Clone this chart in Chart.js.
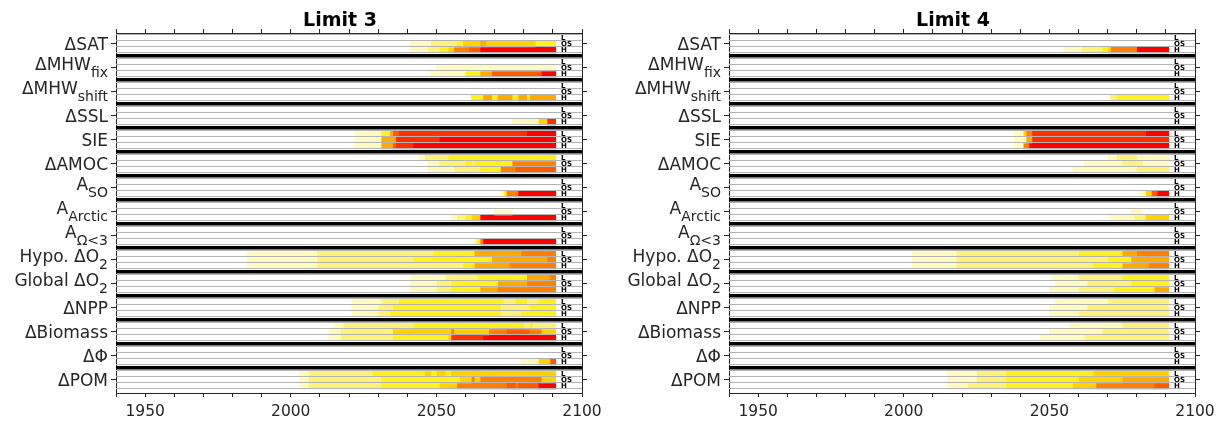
<!DOCTYPE html>
<html>
<head>
<meta charset="utf-8">
<script src="https://cdn.jsdelivr.net/npm/chart.js@4.4.1/dist/chart.umd.min.js"></script>
<style>
  body { margin: 0; background: #fff; width: 1226px; height: 425px; overflow: hidden; position: relative; }
  .panel { position: absolute; top: 0; width: 613px; height: 425px; }
</style>
</head>
<body>
<div class="panel" style="left:0"><canvas id="limit3" width="613" height="425"></canvas></div>
<div class="panel" style="left:613px"><canvas id="limit4" width="613" height="425"></canvas></div>
<script>
const variables = ['ΔSAT', 'ΔMHW', 'ΔMHW', 'ΔSSL', 'SIE', 'ΔAMOC', 'A', 'A', 'A', 'Hypo. ΔO', 'Global ΔO', 'ΔNPP', 'ΔBiomass', 'ΔΦ', 'ΔPOM'];
const subscripts = ['', 'fix', 'shift', '', '', '', 'SO', 'Arctic', 'Ω<3', '2', '2', '', '', '', ''];
const scenarios = ['L', 'OS', 'H'];
const xTickLabels = [1950, 2000, 2050, 2100];
const endYear = 2091;
// colour level 1 (pale) .. 9 (red), 0 = nothing
const levelColors = [null, '#fffac2', '#fff27a', '#fff01e', '#ffd200', '#ffaa00', '#ff8000', '#ff5a00', '#ff3000', '#ff0000'];

// each row: [start year, level] pairs, a row runs on to endYear
const limit3L = [
  [], [], [], [],
  [[2022, 1], [2031, 3], [2034, 5], [2035, 7], [2037, 8], [2081, 9]],
  [[2044, 1], [2046, 2], [2054, 3]],
  [], [], [],
  [[1985, 1], [2009, 2], [2049, 3], [2063, 5], [2079, 6]],
  [[2041, 1], [2053, 2], [2064, 3], [2081, 5], [2089, 6]],
  [[2021, 1], [2031, 2], [2037, 3], [2073, 2], [2077, 3], [2081, 2], [2085, 3]],
  [[2015, 1], [2018, 2], [2042, 3], [2080, 2], [2082, 3], [2083, 2]],
  [],
  [[2003, 1], [2006, 2], [2028, 3], [2046, 4], [2048, 3], [2050, 4], [2053, 3], [2055, 4]]
];
const limit3OS = [
  [[2041, 1], [2048, 2], [2057, 3], [2059, 4], [2065, 5], [2067, 4], [2084, 3]],
  [[2050, 1]],
  [], [],
  [[2022, 1], [2031, 5], [2036, 8], [2051, 9]],
  [[2047, 1], [2051, 2], [2060, 3], [2062, 2], [2063, 3], [2076, 6]],
  [],
  [[2070, 1], [2076, 0]],
  [],
  [[1985, 1], [2009, 2], [2042, 3], [2069, 5], [2088, 6]],
  [[2041, 1], [2050, 2], [2055, 3], [2071, 5], [2081, 6]],
  [[2021, 1], [2030, 2], [2035, 3], [2072, 2], [2082, 3]],
  [[2013, 1], [2017, 2], [2035, 4], [2055, 6], [2056, 4], [2068, 6], [2074, 7], [2082, 6], [2086, 4]],
  [],
  [[2003, 1], [2006, 2], [2031, 3], [2058, 4], [2062, 6], [2063, 4], [2065, 6], [2086, 4]]
];
const limit3H = [
  [[2041, 1], [2047, 2], [2051, 3], [2054, 4], [2056, 6], [2061, 7], [2065, 9]],
  [[2048, 1], [2060, 3], [2065, 5], [2069, 7], [2086, 9]],
  [[2062, 3], [2066, 5], [2069, 3], [2071, 5], [2076, 3], [2078, 5], [2081, 3], [2082, 5]],
  [[2076, 1], [2085, 4], [2088, 8]],
  [[2022, 1], [2031, 5], [2035, 7], [2036, 8], [2042, 9]],
  [[2047, 1], [2056, 2], [2065, 3], [2072, 6], [2077, 7]],
  [[2072, 1], [2073, 3], [2074, 6], [2078, 9]],
  [[2055, 1], [2057, 2], [2060, 3], [2062, 4], [2065, 9]],
  [[2063, 1], [2064, 3], [2065, 6], [2066, 9]],
  [[1985, 1], [2009, 2], [2059, 3], [2063, 5], [2075, 6]],
  [[2041, 1], [2050, 2], [2055, 3], [2065, 5], [2071, 6]],
  [[2021, 1], [2030, 2], [2034, 3], [2072, 2], [2079, 3]],
  [[2013, 1], [2017, 2], [2035, 3], [2054, 4], [2055, 8], [2066, 9]],
  [[2079, 1], [2085, 4], [2089, 7]],
  [[2003, 1], [2006, 2], [2031, 3], [2051, 4], [2057, 6], [2074, 7], [2077, 6], [2078, 7], [2085, 9]]
];

const limit4L = [
  [], [], [], [],
  [[2038, 1], [2041, 4], [2042, 6], [2044, 8], [2083, 9]],
  [[2070, 1], [2073, 2], [2080, 1]],
  [], [], [],
  [[2003, 1], [2018, 2], [2060, 3], [2075, 5], [2080, 6]],
  [[2051, 1], [2060, 2], [2075, 3]],
  [[2052, 1], [2070, 2]],
  [[2057, 1], [2075, 2]],
  [],
  [[2015, 1], [2025, 2], [2035, 3], [2065, 4]]
];
const limit4OS = [
  [], [], [], [],
  [[2038, 1], [2042, 5], [2044, 8]],
  [[2062, 1], [2075, 2], [2082, 1]],
  [],
  [[2078, 1], [2082, 0]],
  [],
  [[2003, 1], [2018, 2], [2070, 3], [2078, 5]],
  [[2052, 1], [2063, 2], [2078, 3]],
  [[2050, 1], [2063, 2]],
  [[2050, 1], [2068, 2]],
  [],
  [[2015, 1], [2025, 2], [2035, 3], [2060, 4], [2075, 5]]
];
const limit4H = [
  [[2055, 1], [2061, 2], [2068, 3], [2070, 4], [2071, 6], [2080, 9]],
  [],
  [[2071, 2], [2073, 3]],
  [],
  [[2038, 1], [2041, 6], [2043, 9]],
  [[2058, 1], [2080, 2]],
  [[2081, 1], [2083, 4], [2085, 7], [2087, 9]],
  [[2071, 1], [2079, 2], [2083, 4]],
  [],
  [[2003, 1], [2018, 2], [2065, 3], [2075, 5], [2084, 6]],
  [[2050, 1], [2060, 2], [2072, 3], [2086, 5]],
  [[2050, 1], [2060, 2]],
  [[2047, 1], [2062, 2]],
  [],
  [[2015, 1], [2022, 2], [2035, 3], [2058, 4], [2066, 6], [2086, 7]]
];

Chart.defaults.font.family = '"DejaVu Sans", sans-serif';
Chart.defaults.color = '#262626';

// each group takes 4 units on the y axis: rows L, OS, H and the separator
const groupCenters = variables.map((v, g) => 4 * g + 1.83);
const rowLines = [];
variables.forEach((v, g) => {
  [0.33, 1.33, 2.33, 3.33].forEach(o => rowLines.push({ value: 4 * g + o, sep: false }));
  if (g < variables.length - 1) rowLines.push({ value: 4 * g + 3.75, sep: true });
});

function buildDatasets(rowsL, rowsOS, rowsH) {
  const sets = [];
  [rowsL, rowsOS, rowsH].forEach((rows, s) => {
    rows.forEach((segs, g) => {
      segs.forEach((seg, k) => {
        if (!seg[1]) return;
        const end = k + 1 < segs.length ? segs[k + 1][0] : endYear;
        if (!sets[k]) sets[k] = [];
        sets[k].push({ x: [seg[0], end], y: 4 * g + s + 0.83, level: seg[1] });
      });
    });
  });
  return sets.map(d => ({
    data: d,
    backgroundColor: c => (c.raw ? levelColors[c.raw.level] : '#fff'),
    borderWidth: 0,
    grouped: false,
    barPercentage: 1,
    categoryPercentage: 1
  }));
}

const groupLabels = {
  id: 'groupLabels',
  afterDraw(chart) {
    const { ctx, chartArea, scales } = chart;
    const y = scales.y;
    ctx.save();
    // panel title, centred a little left of the axes centre as in the figure
    ctx.fillStyle = '#000';
    ctx.font = 'bold 19px "DejaVu Sans"';
    ctx.textAlign = 'center';
    ctx.textBaseline = 'alphabetic';
    ctx.fillText(chart.options.panelTitle, (chartArea.left + chartArea.right) / 2 - 9, 26);

    ctx.fillStyle = '#262626';
    ctx.textAlign = 'left';
    variables.forEach((name, g) => {
      const yc = y.getPixelForValue(groupCenters[g]);
      const sub = subscripts[g];
      ctx.font = '17px "DejaVu Sans"';
      const wMain = ctx.measureText(name).width;
      ctx.font = '14px "DejaVu Sans"';
      const wSub = sub ? ctx.measureText(sub).width : 0;
      const x0 = chartArea.left - 8 - wMain - wSub;
      ctx.font = '17px "DejaVu Sans"';
      ctx.fillText(name, x0, yc + (sub ? 2.5 : 6.3));
      if (sub) {
        ctx.font = '14px "DejaVu Sans"';
        ctx.fillText(sub, x0 + wMain, yc + 9.3);
      }
    });
    ctx.font = 'bold 7px "DejaVu Sans"';
    ctx.fillStyle = '#000';
    ctx.textBaseline = 'middle';
    const xl = scales.x.getPixelForValue(2092.8);
    variables.forEach((v, g) => {
      scenarios.forEach((s, i) => ctx.fillText(s, xl, y.getPixelForValue(4 * g + i + 0.83)));
    });
    ctx.restore();
  }
};

function makePanel(id, title, rowsL, rowsOS, rowsH) {
  const axisLine = { display: true, color: '#262626', width: 1 };
  return new Chart(document.getElementById(id), {
    type: 'bar',
    data: { datasets: buildDatasets(rowsL, rowsOS, rowsH) },
    options: {
      panelTitle: title,
      indexAxis: 'y',
      responsive: false,
      animation: false,
      layout: { padding: { top: 29 } },
      plugins: {
        legend: { display: false },
        tooltip: { enabled: false },
        title: { display: false }
      },
      scales: {
        x: {
          type: 'linear', position: 'bottom', min: 1940, max: 2100,
          ticks: {
            stepSize: 10, autoSkip: false, maxRotation: 0, padding: 6,
            font: { size: 15.5 }, color: '#262626',
            callback: v => (xTickLabels.includes(v) ? String(v) : '')
          },
          grid: { drawOnChartArea: false, tickLength: 4, color: '#262626' },
          border: axisLine,
          afterFit: s => { s.height = 32; }
        },
        xt: {
          type: 'linear', position: 'top', min: 1940, max: 2100,
          ticks: { stepSize: 10, autoSkip: false, callback: () => '' },
          grid: { drawOnChartArea: false, tickLength: 4, color: '#262626' },
          border: axisLine,
          afterFit: s => { s.height = 4; }
        },
        y: {
          type: 'linear', position: 'left', min: 0, max: 60, reverse: true, offset: false,
          afterBuildTicks: s => { s.ticks = groupCenters.map(v => ({ value: v })); },
          ticks: { autoSkip: false, callback: () => '' },
          grid: { offset: false, drawOnChartArea: false, tickLength: 5, color: '#262626' },
          border: axisLine,
          afterFit: s => { s.width = 116; }
        },
        yr: {
          type: 'linear', position: 'right', min: 0, max: 60, reverse: true, offset: false,
          afterBuildTicks: s => { s.ticks = groupCenters.map(v => ({ value: v })); },
          ticks: { autoSkip: false, callback: () => '' },
          grid: { offset: false, drawOnChartArea: false, tickLength: 5, color: '#262626' },
          border: axisLine,
          afterFit: s => { s.width = 31; }
        },
        rows: {
          type: 'linear', position: 'left', min: 0, max: 60, reverse: true, offset: false,
          afterBuildTicks: s => { s.ticks = rowLines.map(r => ({ value: r.value })); },
          ticks: { display: false },
          grid: {
            z: 1,
            offset: false,
            drawTicks: false,
            color: c => (c.tick && rowLines[c.index] && rowLines[c.index].sep ? '#000' : '#b4b4b4'),
            lineWidth: c => (c.tick && rowLines[c.index] && rowLines[c.index].sep ? 3.5 : 1)
          },
          border: { display: false },
          afterFit: s => { s.width = 0; }
        }
      }
    },
    plugins: [groupLabels]
  });
}

makePanel('limit3', 'Limit 3', limit3L, limit3OS, limit3H);
makePanel('limit4', 'Limit 4', limit4L, limit4OS, limit4H);
</script>
</body>
</html>
